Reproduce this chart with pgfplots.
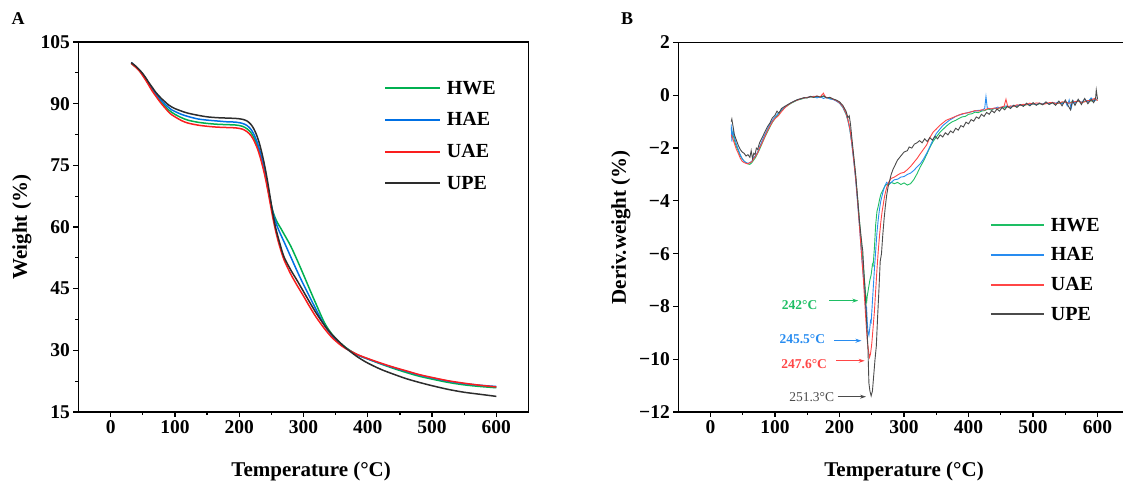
\documentclass[border=0pt]{standalone}
\usepackage{fontspec}
\setmainfont{Liberation Serif}
\usepackage{pgfplots}
\pgfplotsset{compat=1.18}
\usetikzlibrary{arrows.meta}

\definecolor{cHWE}{RGB}{0,176,80}
\definecolor{cHAE}{RGB}{0,112,228}
\definecolor{cUAE}{RGB}{250,30,30}
\definecolor{cUPE}{RGB}{45,45,45}
\definecolor{dHWE}{RGB}{30,190,100}
\definecolor{dHAE}{RGB}{40,140,240}
\definecolor{dUAE}{RGB}{255,70,70}
\definecolor{dUPE}{RGB}{75,75,75}

\pgfplotsset{
  tgabox/.style={
    scale only axis,
    axis line style={line width=1.2pt},
    tick align=outside, tick pos=left,
    major tick length=5pt, minor tick length=3pt,
    every tick/.style={black, line width=1.2pt},
    tick label style={font=\fontsize{19.5}{22}\selectfont\bfseries},
    label style={font=\fontsize{21}{24}\selectfont\bfseries},
    xmin=-50, xmax=650,
    xtick={0,100,200,300,400,500,600},
    xticklabels={0,100,200,300,400,500,600},
    minor x tick num=1,
    xlabel={Temperature (°C)},
    legend cell align=left,
    legend style={draw=none, fill=none, column sep=4pt,
      font=\fontsize{20}{22}\selectfont\bfseries},
  }
}

\begin{document}
\begin{tikzpicture}
\path[use as bounding box] (0,0) rectangle (1123pt,484pt);

\node[font=\fontsize{18}{20}\selectfont\bfseries] at (18pt,465pt) {A};
\node[font=\fontsize{18}{20}\selectfont\bfseries] at (627pt,465pt) {B};

% ---- A: TGA ----
\begin{axis}[tgabox,
  at={(78.5pt,72pt)}, anchor=south west,
  width=450pt, height=370pt,
  ymin=15, ymax=105,
  ytick={15,30,45,60,75,90,105},
  yticklabels={15,30,45,60,75,90,105},
  minor y tick num=1,
  ylabel={Weight (\%)},
  ylabel style={at={(axis description cs:-0.126,0.5)}, anchor=center},
  xlabel style={at={(axis description cs:0.517,-0.162)}, anchor=center},
  legend style={at={(axis description cs:0.672,0.906)}, anchor=north west, row sep=13pt},
  legend image code/.code={\draw[#1] (0pt,0pt) -- (55pt,0pt);},
  legend image post style={line width=1.8pt},
  every axis plot/.append style={line width=1.5pt, smooth},
]
\addplot[cHWE] coordinates {
(32,99.8)(40,98.8)(45,98.0)(50,97.0)(55,95.8)(60,94.6)(65,93.3)(70,92.2)(75,91.1)(80,90.1)(85,89.3)(90,88.5)(95,87.9)(100,87.4)(110,86.6)(120,86.0)(135,85.5)(150,85.2)(165,85.0)(180,84.9)(195,84.8)(205,84.5)(212,83.9)(218,83.0)(223,81.7)(228,79.8)(232,77.9)(236,75.6)(240,72.9)(244,69.8)(248,66.6)(252,64.0)(256,62.2)(260,60.9)(265,59.6)(270,58.2)(280,55.4)(290,52.0)(300,48.4)(310,44.7)(320,41.1)(333,36.6)(345,33.8)(360,31.4)(372,30.0)(385,28.8)(400,27.9)(420,26.7)(440,25.6)(460,24.6)(480,23.7)(500,23.0)(525,22.2)(550,21.6)(575,21.2)(600,20.9)
};
\addplot[cHAE] coordinates {
(32,100.0)(40,98.9)(45,98.1)(50,97.1)(55,96.0)(60,94.8)(65,93.6)(70,92.5)(75,91.5)(80,90.6)(85,89.8)(90,89.1)(95,88.5)(100,88.1)(110,87.4)(120,86.9)(135,86.3)(150,86.0)(165,85.8)(180,85.6)(195,85.5)(205,85.2)(212,84.7)(218,83.8)(223,82.5)(228,80.6)(232,78.6)(236,76.2)(240,73.4)(244,70.2)(248,66.8)(252,63.8)(256,61.6)(260,59.8)(265,58.0)(270,56.3)(280,52.8)(290,49.3)(300,46.0)(310,42.9)(320,39.8)(333,36.0)(345,33.5)(360,31.2)(372,29.9)(385,28.8)(400,27.9)(420,26.8)(440,25.8)(460,24.9)(480,24.0)(500,23.3)(525,22.5)(550,21.9)(575,21.5)(600,21.2)
};
\addplot[cUAE] coordinates {
(32,99.8)(40,98.7)(45,97.9)(50,96.8)(55,95.6)(60,94.3)(65,93.0)(70,91.9)(75,90.8)(80,89.8)(85,88.9)(90,88.0)(95,87.3)(100,86.8)(110,85.9)(120,85.3)(135,84.8)(150,84.5)(165,84.3)(180,84.2)(195,84.1)(205,83.8)(212,83.2)(218,82.3)(223,81.0)(228,79.2)(232,77.3)(236,75.0)(240,72.4)(244,69.3)(248,65.9)(252,62.5)(256,59.5)(260,56.9)(265,54.2)(270,51.9)(280,48.6)(290,45.8)(300,43.2)(310,40.5)(320,38.0)(333,35.2)(345,33.0)(360,31.0)(372,29.9)(385,28.9)(400,28.0)(420,26.9)(440,25.9)(460,25.0)(480,24.1)(500,23.4)(525,22.6)(550,22.0)(575,21.5)(600,21.1)
};
\addplot[cUPE] coordinates {
(32,100.0)(40,99.0)(45,98.2)(50,97.3)(55,96.2)(60,95.0)(65,93.9)(70,92.8)(75,91.9)(80,91.1)(85,90.4)(90,89.7)(95,89.2)(100,88.8)(110,88.2)(120,87.7)(135,87.2)(150,86.8)(165,86.6)(180,86.5)(195,86.4)(205,86.2)(212,85.8)(218,85.0)(223,83.8)(228,82.0)(232,80.0)(236,77.5)(240,74.6)(244,71.2)(248,67.4)(252,63.6)(256,60.3)(260,57.8)(265,55.0)(270,52.6)(280,49.6)(290,47.0)(300,44.3)(310,41.6)(320,39.0)(333,36.0)(345,33.7)(360,31.4)(372,29.8)(385,28.3)(400,26.9)(420,25.4)(440,24.2)(460,23.1)(480,22.2)(500,21.4)(525,20.5)(550,19.8)(575,19.3)(600,18.8)
};
\legend{HWE,HAE,UAE,UPE}
\end{axis}

% ---- B: DTG ----
\begin{axis}[tgabox,
  at={(678.3pt,72pt)}, anchor=south west,
  width=451.5pt, height=369.5pt,
  ymin=-12, ymax=2,
  ytick={-12,-10,-8,-6,-4,-2,0,2},
  yticklabels={−12,−10,−8,−6,−4,−2,0,2},
  ylabel={Deriv.weight (\%)},
  ylabel style={at={(axis description cs:-0.127,0.5)}, anchor=center},
  xlabel style={at={(axis description cs:0.5,-0.162)}, anchor=center},
  legend style={at={(axis description cs:0.683,0.536)}, anchor=north west, row sep=11pt},
  legend image code/.code={\draw[#1] (0pt,0pt) -- (53pt,0pt);},
  legend image post style={line width=2pt},
  every axis plot/.append style={line width=0.9pt},
]
\addplot[dHWE] coordinates {
(32,-1.25)(34,-1.45)(36,-1.6)(38,-1.8)(40,-1.95)(43,-2.1)(46,-2.3)(49,-2.4)(52,-2.5)(55,-2.55)(58,-2.6)(61,-2.62)(64,-2.55)(67,-2.45)(70,-2.35)(73,-2.2)(76,-2.05)(80,-1.82)(84,-1.6)(88,-1.4)(92,-1.2)(96,-1.02)(100,-0.88)(105,-0.72)(110,-0.58)(115,-0.47)(120,-0.38)(125,-0.3)(130,-0.24)(135,-0.18)(140,-0.15)(145,-0.11)(150,-0.09)(155,-0.06)(160,-0.08)(165,-0.05)(170,-0.07)(175,-0.04)(180,-0.09)(185,-0.12)(190,-0.15)(195,-0.2)(200,-0.3)(205,-0.45)(210,-0.72)(213,-0.95)(216,-1.3)(219,-1.8)(222,-2.4)(225,-3.1)(228,-3.9)(231,-4.8)(234,-5.7)(237,-6.5)(239,-7.1)(241,-7.7)(242,-7.84)(243,-7.6)(245,-7.3)(247,-7.0)(249,-6.8)(251,-6.4)(252,-6.45)(254,-5.8)(256,-4.9)(258,-4.4)(260,-4.2)(262,-3.95)(264,-3.75)(267,-3.6)(270,-3.45)(273,-3.38)(276,-3.4)(280,-3.3)(285,-3.35)(290,-3.3)(295,-3.38)(300,-3.32)(305,-3.4)(310,-3.35)(315,-3.2)(320,-2.98)(325,-2.72)(330,-2.5)(335,-2.25)(340,-1.98)(345,-1.75)(350,-1.58)(355,-1.42)(360,-1.3)(365,-1.18)(370,-1.08)(375,-1.0)(380,-0.95)(385,-0.88)(390,-0.82)(395,-0.8)(400,-0.72)(405,-0.7)(410,-0.64)(415,-0.66)(420,-0.6)(425,-0.58)(430,-0.52)(435,-0.56)(440,-0.5)(445,-0.52)(450,-0.46)(455,-0.48)(460,-0.42)(465,-0.45)(470,-0.4)(475,-0.42)(480,-0.37)(485,-0.4)(490,-0.35)(495,-0.37)(500,-0.33)(505,-0.36)(510,-0.32)(515,-0.34)(520,-0.3)(525,-0.33)(530,-0.28)(535,-0.32)(540,-0.3)(545,-0.27)(550,-0.26)(555,-0.3)(560,-0.25)(565,-0.28)(570,-0.22)(575,-0.27)(580,-0.24)(585,-0.2)(590,-0.22)(595,-0.17)(600,-0.18)
};
\addplot[dHAE] coordinates {
(32,-1.1)(33,-1.75)(35,-1.3)(37,-1.6)(40,-1.85)(43,-2.05)(46,-2.25)(49,-2.4)(52,-2.5)(55,-2.55)(58,-2.58)(61,-2.55)(64,-2.5)(67,-2.35)(70,-2.28)(73,-2.15)(76,-1.95)(80,-1.72)(84,-1.5)(88,-1.3)(92,-1.1)(96,-0.95)(100,-0.82)(105,-0.68)(110,-0.55)(115,-0.45)(120,-0.36)(125,-0.28)(130,-0.22)(135,-0.17)(140,-0.13)(145,-0.1)(150,-0.08)(155,-0.06)(160,-0.04)(165,-0.1)(170,-0.05)(175,-0.12)(180,-0.08)(185,-0.14)(190,-0.16)(195,-0.22)(200,-0.3)(205,-0.45)(210,-0.7)(213,-0.95)(216,-1.3)(219,-1.85)(222,-2.5)(225,-3.2)(228,-4.1)(231,-5.0)(234,-6.0)(237,-6.9)(239,-7.5)(241,-8.25)(242,-8.1)(243,-8.6)(244,-8.95)(245.5,-9.1)(247,-8.8)(248,-8.55)(249,-8.6)(250,-8.2)(252,-7.4)(254,-6.6)(256,-5.9)(258,-5.2)(260,-4.7)(262,-4.3)(264,-4.0)(266,-3.8)(268,-3.6)(270,-3.45)(273,-3.3)(276,-3.38)(280,-3.3)(285,-3.2)(290,-3.18)(295,-3.1)(300,-3.08)(305,-3.0)(310,-2.95)(315,-2.85)(320,-2.72)(325,-2.6)(330,-2.42)(335,-2.2)(340,-1.95)(345,-1.68)(350,-1.45)(355,-1.3)(360,-1.15)(365,-1.05)(370,-0.95)(375,-0.88)(380,-0.8)(385,-0.75)(390,-0.72)(395,-0.68)(400,-0.65)(405,-0.62)(410,-0.6)(415,-0.57)(420,-0.58)(425,-0.5)(427,-0.05)(429,-0.48)(435,-0.52)(440,-0.5)(445,-0.45)(450,-0.48)(455,-0.42)(460,-0.4)(465,-0.45)(470,-0.38)(475,-0.4)(480,-0.35)(485,-0.38)(490,-0.33)(495,-0.36)(500,-0.32)(505,-0.35)(510,-0.3)(515,-0.33)(520,-0.28)(525,-0.32)(530,-0.27)(535,-0.3)(540,-0.25)(545,-0.32)(550,-0.22)(553,-0.4)(556,-0.18)(559,-0.5)(562,-0.2)(565,-0.3)(570,-0.18)(575,-0.28)(580,-0.15)(585,-0.25)(590,-0.1)(595,-0.22)(600,-0.12)
};
\addplot[dUAE] coordinates {
(32,-1.5)(34,-1.6)(36,-1.75)(38,-1.9)(40,-2.05)(43,-2.2)(46,-2.38)(49,-2.5)(52,-2.55)(55,-2.58)(58,-2.6)(61,-2.55)(64,-2.52)(67,-2.4)(70,-2.3)(73,-2.18)(76,-2.0)(80,-1.8)(84,-1.58)(88,-1.36)(92,-1.18)(96,-1.0)(100,-0.88)(105,-0.78)(110,-0.62)(115,-0.48)(120,-0.37)(125,-0.29)(130,-0.22)(135,-0.18)(140,-0.13)(145,-0.1)(150,-0.08)(155,-0.06)(160,-0.05)(165,-0.03)(170,-0.06)(175,0.08)(177,-0.02)(180,-0.1)(185,-0.08)(190,-0.15)(195,-0.2)(200,-0.28)(205,-0.42)(210,-0.68)(213,-0.92)(216,-1.25)(219,-1.8)(222,-2.45)(225,-3.15)(228,-4.0)(231,-5.0)(234,-6.0)(237,-7.0)(239,-7.8)(241,-8.6)(243,-9.3)(245,-9.7)(246.5,-9.93)(248,-9.8)(250,-9.4)(252,-8.8)(254,-8.2)(256,-7.4)(258,-6.6)(260,-5.9)(262,-5.3)(264,-4.8)(266,-4.4)(268,-4.1)(270,-3.8)(273,-3.5)(276,-3.3)(280,-3.15)(285,-3.1)(290,-3.02)(295,-2.95)(300,-2.92)(305,-2.82)(310,-2.7)(315,-2.55)(320,-2.4)(325,-2.22)(330,-2.05)(335,-1.88)(340,-1.6)(345,-1.4)(350,-1.28)(355,-1.15)(360,-1.05)(365,-0.95)(370,-0.9)(375,-0.85)(380,-0.8)(385,-0.75)(390,-0.7)(395,-0.68)(400,-0.66)(405,-0.62)(410,-0.58)(415,-0.6)(420,-0.55)(425,-0.56)(430,-0.5)(435,-0.52)(440,-0.48)(445,-0.5)(450,-0.45)(455,-0.42)(458,-0.15)(461,-0.45)(465,-0.4)(470,-0.42)(475,-0.36)(480,-0.38)(485,-0.34)(490,-0.36)(495,-0.3)(500,-0.33)(505,-0.29)(510,-0.3)(515,-0.34)(520,-0.32)(525,-0.28)(530,-0.27)(535,-0.31)(540,-0.3)(545,-0.25)(550,-0.26)(555,-0.3)(560,-0.28)(565,-0.24)(570,-0.22)(575,-0.27)(580,-0.25)(585,-0.2)(590,-0.2)(595,-0.12)(600,-0.2)
};
\addplot[dUPE] coordinates {
(32,-1.0)(33,-0.9)(35,-1.2)(37,-1.5)(40,-1.7)(43,-1.9)(46,-2.05)(49,-2.15)(52,-2.2)(55,-2.3)(58,-2.25)(61,-2.35)(63,-2.1)(65,-2.4)(67,-2.2)(69,-2.25)(71,-2.0)(73,-2.05)(76,-1.8)(80,-1.6)(84,-1.4)(88,-1.2)(92,-1.05)(96,-0.85)(100,-0.75)(103,-0.6)(106,-0.68)(110,-0.5)(115,-0.42)(120,-0.35)(125,-0.28)(130,-0.22)(135,-0.16)(140,-0.13)(145,-0.09)(150,-0.1)(155,-0.04)(160,-0.08)(165,-0.03)(170,-0.07)(175,-0.02)(180,-0.1)(185,-0.08)(190,-0.14)(195,-0.18)(200,-0.25)(205,-0.38)(210,-0.6)(213,-0.85)(215,-0.78)(217,-1.1)(219,-1.6)(222,-2.3)(225,-3.0)(228,-3.9)(231,-4.8)(234,-5.5)(236,-5.9)(238,-6.8)(240,-7.6)(242,-8.6)(244,-9.6)(245.5,-10.9)(247,-11.2)(249,-11.39)(251,-11.2)(253,-10.6)(255,-10.0)(257,-9.5)(259,-8.4)(261,-7.4)(263,-6.3)(265,-6.0)(267,-5.3)(269,-4.7)(271,-4.2)(273,-3.8)(275,-3.5)(277.5,-3.25)(280,-3.0)(283,-2.8)(286,-2.65)(290,-2.45)(295,-2.3)(300,-2.15)(305,-2.1)(308,-1.96)(312,-2.0)(316,-1.85)(320,-1.8)(324,-1.72)(328,-1.8)(332,-1.65)(336,-1.75)(340,-1.6)(344,-1.7)(348,-1.55)(352,-1.65)(356,-1.5)(360,-1.58)(364,-1.42)(368,-1.5)(372,-1.35)(376,-1.42)(380,-1.25)(384,-1.32)(388,-1.15)(392,-1.2)(396,-1.02)(400,-1.08)(404,-0.92)(408,-0.98)(412,-0.82)(416,-0.88)(420,-0.72)(424,-0.8)(428,-0.65)(432,-0.72)(436,-0.58)(440,-0.66)(444,-0.52)(448,-0.6)(452,-0.46)(456,-0.55)(460,-0.42)(465,-0.5)(470,-0.38)(475,-0.46)(480,-0.35)(485,-0.42)(490,-0.3)(495,-0.4)(500,-0.28)(505,-0.38)(510,-0.3)(515,-0.36)(520,-0.25)(525,-0.35)(530,-0.28)(535,-0.38)(540,-0.22)(545,-0.4)(550,-0.18)(555,-0.42)(558,-0.55)(561,-0.2)(565,-0.38)(570,-0.15)(575,-0.35)(580,-0.12)(585,-0.32)(590,-0.15)(594,-0.28)(597,-0.1)(598,0.2)(600,-0.15)
};
\legend{HWE,HAE,UAE,UPE}

% peak annotations
\draw[dHWE, line width=0.9pt, -{Stealth[length=6pt,width=4pt]}] (axis cs:184,-7.78) -- (axis cs:229,-7.78);
\node[anchor=east, text=dHWE, font=\fontsize{13.5}{15}\selectfont\bfseries] at (axis cs:171,-7.95) {242°C};
\draw[dHAE, line width=0.9pt, -{Stealth[length=6pt,width=4pt]}] (axis cs:192,-9.3) -- (axis cs:234,-9.3);
\node[anchor=east, text=dHAE, font=\fontsize{13.5}{15}\selectfont\bfseries] at (axis cs:183,-9.23) {245.5°C};
\draw[dUAE, line width=0.9pt, -{Stealth[length=6pt,width=4pt]}] (axis cs:195,-10.06) -- (axis cs:239,-10.06);
\node[anchor=east, text=dUAE, font=\fontsize{13.5}{15}\selectfont\bfseries] at (axis cs:186,-10.18) {247.6°C};
\draw[dUPE, line width=0.9pt, -{Stealth[length=6pt,width=4pt]}] (axis cs:197,-11.42) -- (axis cs:241,-11.42);
\node[anchor=east, text=dUPE, font=\fontsize{13.5}{15}\selectfont] at (axis cs:197,-11.45) {251.3°C};
\end{axis}
\end{tikzpicture}
\end{document}
